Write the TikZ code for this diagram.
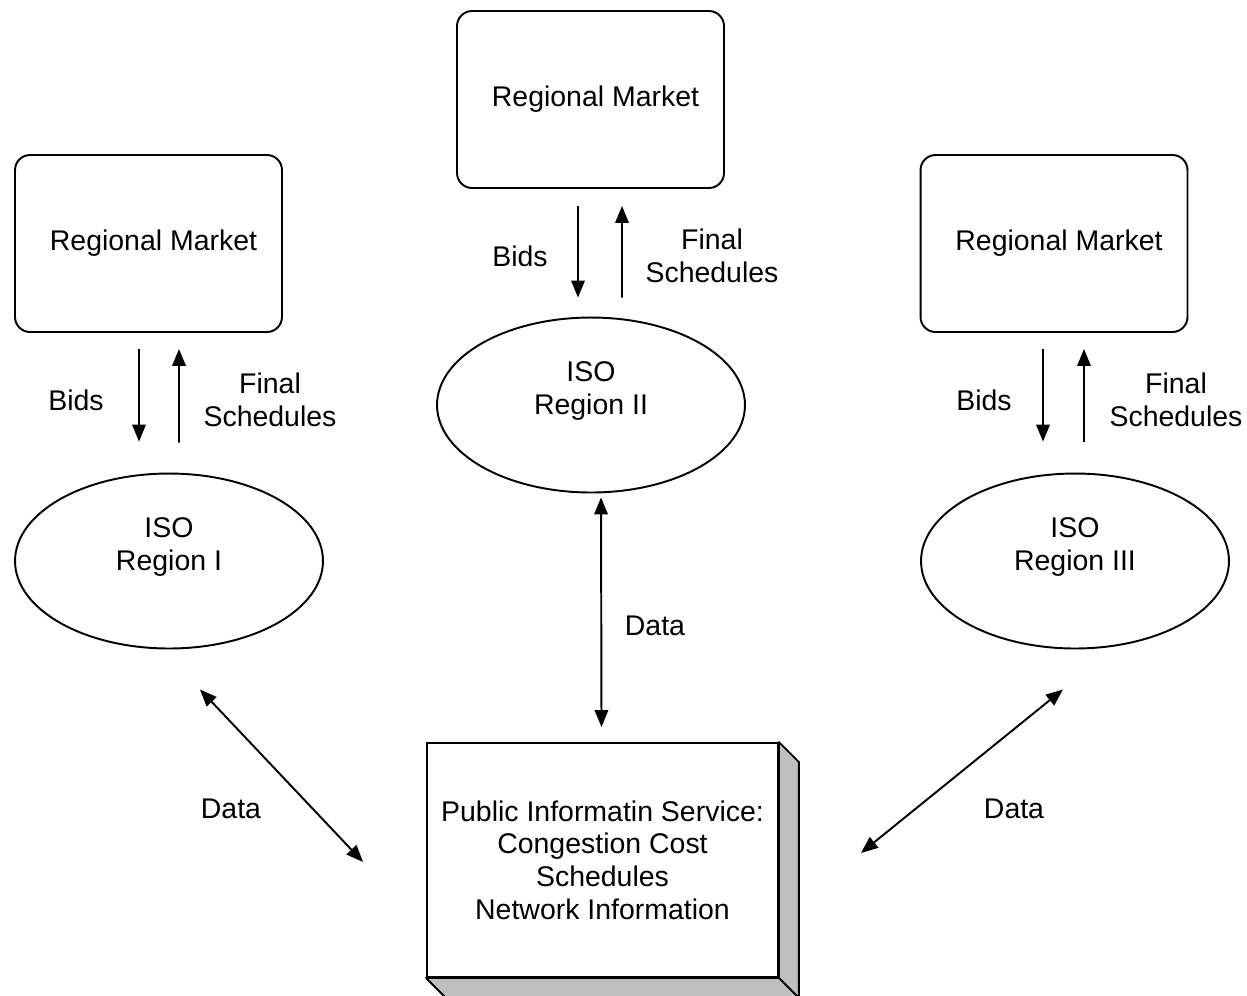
\documentclass[tikz,border=0pt]{standalone}
\usepackage{fontspec}
\setmainfont{Liberation Sans}
\usepackage{tikz}
\usetikzlibrary{arrows.meta}
\usetikzlibrary{shapes.geometric}

\begin{document}
\begin{tikzpicture}[x=0.02cm,y=-0.02cm,line width=1.1pt,
    >={Triangle[length=0.34cm,width=0.27cm]},
    font=\fontsize{16.2}{18.6}\selectfont,
    market/.style={draw,rounded corners=0.3cm,minimum width=5.34cm,minimum height=3.54cm},
    iso/.style={draw,ellipse,minimum width=6.16cm,minimum height=3.5cm},
    lbl/.style={align=center}]
          \useasboundingbox (0,0) rectangle (1247,995);
          % markets
          \node[market] (rmA) at (148.5,243.5) {\hspace*{0.2cm}Regional Market};
          \node[market] (rmB) at (590.5,99.5) {\hspace*{0.2cm}Regional Market};
          \node[market] (rmC) at (1054,243.5) {\hspace*{0.2cm}Regional Market};
          % iso regions
          \node[iso,label={[lbl,shift={(0,-14)}]center:ISO\\Region I}] (isoA) at (169,561) {};
          \node[iso,label={[lbl,shift={(0,-14)}]center:ISO\\Region II}] (isoB) at (591,405) {};
          \node[iso,label={[lbl,shift={(0,-14)}]center:ISO\\Region III}] (isoC) at (1075,561) {};
          % public information service with shadow
          \node[draw,fill=white,align=center,minimum width=7.02cm,minimum height=4.68cm] (pis) at (602.5,860)
               {Public Informatin Service:\\Congestion Cost\\Schedules\\Network Information};
          \filldraw[fill=black!25,line join=round] (pis.north east) -- ([shift={(20,20)}]pis.north east)
               -- ([shift={(20,20)}]pis.south east) -- ([shift={(20,20)}]pis.south west)
               -- (pis.south west) -- (pis.south east) -- cycle;
          \draw (pis.south east) -- ([shift={(20,20)}]pis.south east);
          % bids and schedules, region I
          \draw[->] ([shift={(-9.5,16)}]rmA.south) -- ([shift={(-30,-31)}]isoA.north);
          \draw[->] ([shift={(10,-30)}]isoA.north) -- ([shift={(30.5,16)}]rmA.south);
          \node[lbl] (bidsA) at (76,400) {Bids};
          \node[lbl] (finA) at (270,400) {Final\\Schedules};
          % bids and schedules, region II
          \draw[->] ([shift={(-12.5,17)}]rmB.south) -- ([shift={(-13,-19)}]isoB.north);
          \draw[->] ([shift={(31,-19)}]isoB.north) -- ([shift={(31.5,17)}]rmB.south);
          \node[lbl] (bidsB) at (520,256) {Bids};
          \node[lbl] (finB) at (712,256) {Final\\Schedules};
          % bids and schedules, region III
          \draw[->] ([shift={(-11,16)}]rmC.south) -- ([shift={(-32,-31)}]isoC.north);
          \draw[->] ([shift={(9,-31)}]isoC.north) -- ([shift={(30,16)}]rmC.south);
          \node[lbl] (bidsC) at (984,400) {Bids};
          \node[lbl] (finC) at (1176,400) {Final\\Schedules};
          % data links
          \draw[<->] ([shift={(31,40)}]isoA.south) -- ([shift={(-63,2)}]pis.west);
          \draw[<->] ([shift={(10,4)}]isoB.south) -- ([shift={(-1,-15)}]pis.north);
          \draw[<->] ([shift={(-12,40)}]isoC.south) -- ([shift={(82,-7)}]pis.east);
          \node (dataA) at (231,809) {Data};
          \node (dataB) at (655,626) {Data};
          \node (dataC) at (1014,809) {Data};
        \end{tikzpicture}
\end{document}
